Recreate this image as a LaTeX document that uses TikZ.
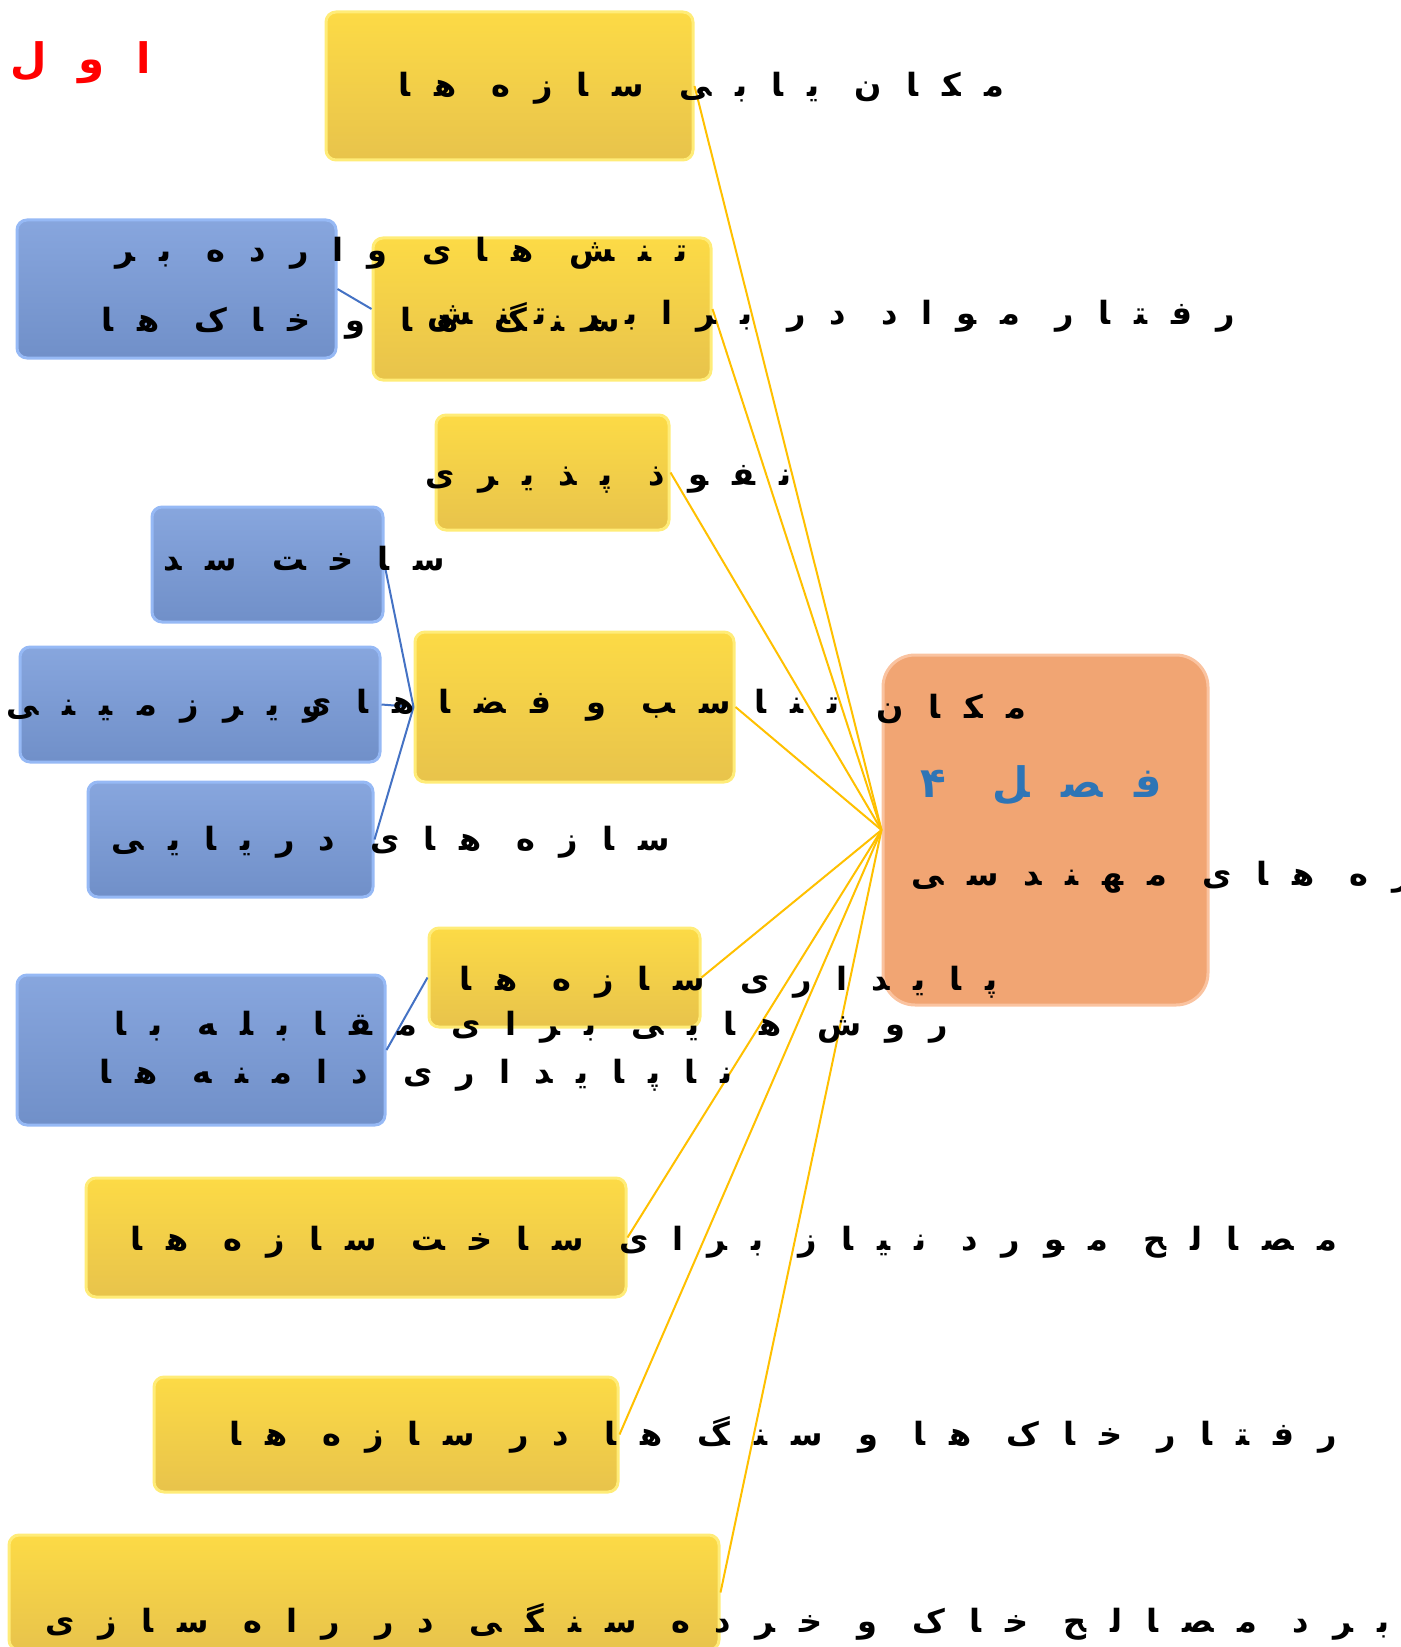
\documentclass[tikz,border=0pt]{standalone}
\usepackage{fontspec}
\TeXXeTstate=1
\newfontfamily\fafont[Script=Arabic,LetterSpace=75]{DejaVu Sans Bold}
\definecolor{yfill}{RGB}{252,212,82}
\definecolor{yedge}{RGB}{255,236,120}
\definecolor{bfill}{RGB}{122,156,218}
\definecolor{bedge}{RGB}{150,185,245}
\definecolor{ofill}{RGB}{241,165,115}
\definecolor{oedge}{RGB}{250,195,160}
\definecolor{lineyellow}{RGB}{255,192,0}
\definecolor{lineblue}{RGB}{68,114,196}
\definecolor{titleblue}{RGB}{46,117,182}
\newcommand{\rtl}[1]{\beginR #1\endR}

\begin{document}
\begin{tikzpicture}[x=0.5pt,y=-0.5pt]

    \tikzset{
      ybox/.style={
        draw=yedge,
        line width=1.5pt,
        top color=yfill!85!yellow,
        middle color=yfill,
        bottom color=yfill!92!black,
        rounded corners=5pt,
      },
      bbox/.style={
        draw=bedge,
        line width=1.5pt,
        top color=bfill!90!white,
        middle color=bfill,
        bottom color=bfill!92!black,
        rounded corners=5pt,
      },
      hubbox/.style={
        draw=oedge,
        line width=1.5pt,
        fill=ofill,
        rounded corners=16pt,
      },
      fatext/.style={
        font={\fafont\fontsize{16}{19}\selectfont},
        inner sep=0pt,
        anchor=base east,
      },
      bigtext/.style={
        fatext,
        font={\fafont\fontsize{21}{25}\selectfont},
      },
      yline/.style={draw=lineyellow,line width=1pt},
      bline/.style={draw=lineblue,line width=1pt},
    }
    \useasboundingbox (0,0) rectangle (1401,1647);
    \clip (0,0) rectangle (1401,1647);

	% boxes
	\node[ybox,minimum width=183.5pt,minimum height=74pt] (sazeh) at (509.5,86) {};
	\node[ybox,minimum width=169pt,minimum height=71pt] (raftar) at (542,309) {};
	\node[bbox,minimum width=159.5pt,minimum height=69pt] (tanesh) at (176.5,289) {};
	\node[ybox,minimum width=116.5pt,minimum height=57.5pt] (nofuz) at (552.5,472.5) {};
	\node[bbox,minimum width=115.5pt,minimum height=57.5pt] (sad) at (267.5,564.5) {};
	\node[ybox,minimum width=159.5pt,minimum height=75pt] (tanasob) at (574.5,707) {};
	\node[bbox,minimum width=180pt,minimum height=57.5pt] (zirzamin) at (200,704.5) {};
	\node[bbox,minimum width=142.5pt,minimum height=57.5pt] (darya) at (230.5,839.5) {};
	\node[hubbox,minimum width=162.5pt,minimum height=175pt] (hub) at (1045.5,830) {};
	\node[ybox,minimum width=135.5pt,minimum height=49.5pt] (paydari) at (564.5,977.5) {};
	\node[bbox,minimum width=184pt,minimum height=75pt] (damaneh) at (201,1050) {};
	\node[ybox,minimum width=270pt,minimum height=59.5pt] (masaleh) at (356,1237.5) {};
	\node[ybox,minimum width=232pt,minimum height=57.5pt] (khak) at (386,1434.5) {};
	\node[ybox,minimum width=355pt,minimum height=57.5pt] (rahsazi) at (364,1592.5) {};

	% connectors
	\foreach \n in {sazeh,raftar,nofuz,tanasob,paydari,masaleh,khak,rahsazi}
	  \draw[yline] (\n.east) -- (hub.west);
	\draw[bline] (tanesh.east) -- (raftar.west);
	\foreach \n in {sad,zirzamin,darya}
	  \draw[bline] (\n.east) -- (tanasob.west);
	\draw[bline] (damaneh.east) -- (paydari.west);

	% texts
	\node[bigtext,text=red] (aval) at (151,74) {\rtl{اول}};
	\node[fatext] (t-sazeh) at (1005,97) {\rtl{مکان یابی سازه ها}};
	\node[fatext] (t-tanesh1) at (688,262) {\rtl{تنش های وارده بر}};
	\node[fatext] (t-tanesh2) at (620,332) {\rtl{سنگ ها و خاک ها}};
	\node[fatext] (t-raftar) at (1235,325) {\rtl{رفتار مواد در برابر تنش}};
	\node[fatext] (t-nofuz) at (792,485) {\rtl{نفوذ پذیری}};
	\node[fatext] (t-sad) at (445,570) {\rtl{ساخت سد}};
	\node[fatext] (t-zirzamin) at (322,715) {\rtl{زیرزمینی}};
	\node[fatext] (t-tanasob) at (840,713) {\rtl{تناسب و فضاهای}};
	\node[fatext] (t-darya) at (670,850) {\rtl{سازه های دریایی}};
	\node[fatext] (t-hub1) at (1027,718) {\rtl{مکان}};
	\node[bigtext,text=titleblue] (t-hub2) at (1162,797) {\rtl{فصل ۴}};
	\node[fatext,anchor=base west] (t-hub3) at (911,885) {\rtl{سازه های مهندسی}};
	\node[fatext] (t-paydari) at (998,990) {\rtl{پایداری سازه ها}};
	\node[fatext] (t-damaneh1) at (948,1035) {\rtl{روش هایی برای مقابله با}};
	\node[fatext] (t-damaneh2) at (733,1083) {\rtl{ناپایداری دامنه ها}};
	\node[fatext] (t-masaleh) at (1338,1250) {\rtl{مصالح مورد نیاز برای ساخت سازه ها}};
	\node[fatext] (t-khak) at (1337,1445) {\rtl{رفتار خاک ها و سنگ ها در سازه ها}};
	\node[fatext,anchor=base west] (t-rahsazi) at (45,1632) {\rtl{کاربرد مصالح خاک و خرده سنگی در راه سازی}};

\end{tikzpicture}
\end{document}
